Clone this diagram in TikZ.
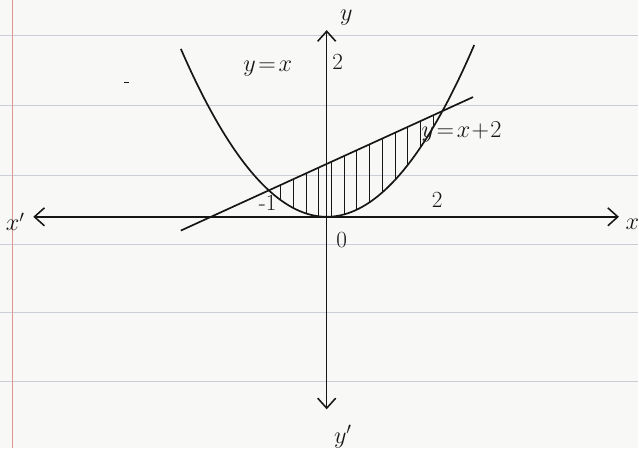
\documentclass[tikz,border=0pt]{standalone}
\usepackage{tikz}
\usetikzlibrary{arrows.meta,positioning}
\definecolor{paper}{RGB}{248,248,246}
\definecolor{ruled}{RGB}{200,206,212}
\definecolor{margin}{RGB}{225,150,150}
\definecolor{ink}{RGB}{22,22,22}
\tikzset{
  axis/.style={ink, line width=1.1pt, {Straight Barb[length=2.5mm,width=4.5mm]}-{Straight Barb[length=2.5mm,width=4.5mm]}},
  curve/.style={ink, line width=1.2pt},
  hatch/.style={ink, line width=0.45pt},
  lbl/.style={ink, inner sep=0pt, font=\fontsize{16.5}{19}\selectfont},
}
\begin{document}
\begin{tikzpicture}[x=0.025cm,y=0.025cm]
  % lined paper
  \fill[paper] (0,0) rectangle (639,449);
  \foreach \ry in {414,344,274,204,136,67}
    \draw[ruled, line width=0.6pt] (0,\ry) -- (639,\ry);
  \draw[margin, line width=0.6pt] (12,0) -- (12,449);

  \begin{scope}[shift={(8.175cm,5.8cm)}, x=1.45cm, y=0.6625cm]
    \coordinate (O)  at (0,0);
    \coordinate (xl) at (-5.07,0);
    \coordinate (xr) at (5.05,0);
    \coordinate (yt) at (0,7.06);
    \coordinate (yb) at (0,-7.28);

    % shaded region
    \foreach \hx in {-0.8,-0.58,...,1.9}
      \draw[hatch] (\hx,{\hx*\hx}) -- (\hx,{\hx+2});

    % axes
    \draw[axis] (xl) -- (xr);
    \draw[axis] (yb) -- (yt);

    % curves
    \draw[curve, domain=-2.52:2.55, samples=80] plot (\x,{\x*\x});
    \draw[curve] (-2.52,-0.52) -- (2.53,4.53);
    \draw[ink, line width=0.8pt] (-3.5,5.09) -- (-3.41,5.09);

    % labels
    \node[lbl] (xlbl)  at (-5.38,-0.19) {$x'$};
    \node[lbl] (xrbl)  at (5.28,-0.3)   {$x$};
    \node[lbl] (ytbl)  at (0.34,7.55)   {$y$};
    \node[lbl] (ybbl)  at (0.28,-8.3)   {$y'$};
    \node[lbl] (par)   at (-1.02,5.62)  {$y\!=\!x$};
    \node[lbl] (two)   at (0.19,5.85)   {2};
    \node[lbl] (lin)   at (2.33,3.2)    {$y\!=\!x\!+\!2$};
    \node[lbl] (mone)  at (-1.02,0.52)  {-1};
    \node[lbl] (twox)  at (1.91,0.64)   {2};
    \node[lbl] (zero)  at (0.26,-0.87)  {0};
  \end{scope}
\end{tikzpicture}
\end{document}
